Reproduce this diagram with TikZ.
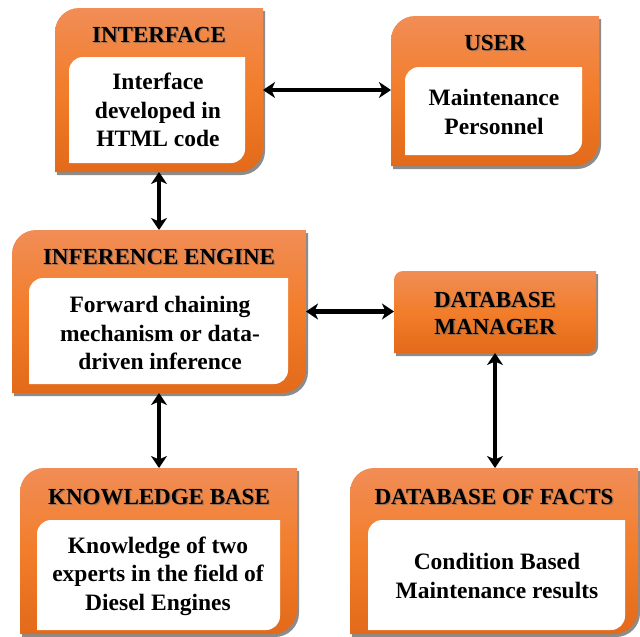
\documentclass[tikz,border=0pt]{standalone}
\usepackage{fontspec}
\setmainfont{Liberation Serif}[BoldFont={Liberation Serif Bold}]
\usetikzlibrary{arrows.meta,backgrounds}

\definecolor{orTop}{RGB}{241,141,86}
\definecolor{orMid}{RGB}{242,125,42}
\definecolor{orBot}{RGB}{226,106,26}

% panel with the top-left and bottom-right corners rounded
\newcommand\roundedpanel[3]{%
  \path[#3] ([yshift=-#2]#1.north west) arc[start angle=180,end angle=90,radius=#2]
    -- (#1.north east) -- ([yshift=#2]#1.south east)
    arc[start angle=0,end angle=-90,radius=#2] -- (#1.south west) -- cycle;}

% orange panel with its grey shadow
\newcommand\orangepanel[2]{%
  \begin{scope}[transform canvas={shift={(2pt,-3pt)}}]
    \roundedpanel{#1}{#2}{fill=black!45}
  \end{scope}
  \roundedpanel{#1}{#2}{top color=orTop,bottom color=orBot,middle color=orMid}}

% heading with a soft grey shade behind it
\newcommand\heading[3]{%
  \node[headshade] (#1s) at ([shift={(1.2pt,-1.2pt)}]#2) {#3};
  \node[headtext] (#1) at (#2) {#3};}

\tikzset{
  frame/.style={draw=none,inner sep=0pt,outer sep=0pt},
  headtext/.style={font=\fontsize{23}{27}\selectfont\bfseries,align=center,inner sep=0pt},
  headshade/.style={headtext,text=black!60,opacity=0.6},
  bodytext/.style={font=\fontsize{23.5}{28.5}\selectfont\bfseries,align=center,inner sep=0pt},
  link/.style={{Stealth[length=12pt,width=16pt,inset=3.5pt]}-{Stealth[length=12pt,width=16pt,inset=3.5pt]},
    line width=4.4pt,black}
}

\begin{document}
\begin{tikzpicture}[x=1pt,y=1pt]
\useasboundingbox (0,0) rectangle (640,-637);

% outer panels
\node[frame,minimum width=208pt,minimum height=164pt] (iface) at (159,-90) {};
\node[frame,minimum width=208pt,minimum height=150pt] (user) at (495,-91) {};
\node[frame,minimum width=294pt,minimum height=163pt] (infer) at (159,-311.5) {};
\node[frame,minimum width=202pt,minimum height=82pt] (dbm) at (495,-312) {};
\node[frame,minimum width=277pt,minimum height=166pt] (kb) at (158.5,-551) {};
\node[frame,minimum width=288pt,minimum height=166pt] (dbf) at (494,-551) {};

% white inner panels
\node[frame,minimum width=176pt,minimum height=106pt] (ifaceIn) at (157,-110) {};
\node[frame,minimum width=177pt,minimum height=88pt] (userIn) at (493.5,-111) {};
\node[frame,minimum width=259pt,minimum height=106pt] (inferIn) at (158.5,-331) {};
\node[frame,minimum width=243pt,minimum height=110pt] (kbIn) at (158.5,-575) {};
\node[frame,minimum width=257pt,minimum height=110pt] (dbfIn) at (496.5,-575) {};

\begin{scope}[on background layer]
  \fill[white] (0,0) rectangle (640,-637);
  \orangepanel{iface}{24pt}
  \orangepanel{user}{24pt}
  \orangepanel{infer}{24pt}
  \orangepanel{dbm}{9pt}
  \orangepanel{kb}{24pt}
  \orangepanel{dbf}{24pt}
  \roundedpanel{ifaceIn}{14pt}{fill=white}
  \roundedpanel{userIn}{14pt}{fill=white}
  \roundedpanel{inferIn}{14pt}{fill=white}
  \roundedpanel{kbIn}{14pt}{fill=white}
  \roundedpanel{dbfIn}{14pt}{fill=white}
\end{scope}

% headings
\heading{ifaceT}{159,-35}{INTERFACE}
\heading{userT}{495,-43}{USER}
\heading{inferT}{159,-257}{INFERENCE ENGINE}
\heading{dbmT}{495,-313}{DATABASE\\MANAGER}
\heading{kbT}{159,-497}{KNOWLEDGE BASE}
\heading{dbfT}{494,-497}{DATABASE OF FACTS}

% panel contents
\node[bodytext] (ifaceB) at (158,-110) {Interface\\developed in\\HTML code};
\node[bodytext] (userB) at (494,-112) {Maintenance\\Personnel};
\node[bodytext] (inferB) at (160,-333) {Forward chaining\\mechanism or data-\\driven inference};
\node[bodytext] (kbB) at (158,-576) {Knowledge of two\\experts in the field of\\Diesel Engines};
\node[bodytext] (dbfB) at (497,-576) {Condition Based\\Maintenance results};

% connectors
\draw[link] (iface.east) -- (iface.east -| user.west);
\draw[link] (iface.south) -- (iface.south |- infer.north);
\draw[link] (infer.east) -- (infer.east -| dbm.west);
\draw[link] (infer.south) -- (infer.south |- kb.north);
\draw[link] (dbm.south) -- (dbm.south |- dbf.north);
\end{tikzpicture}
\end{document}
